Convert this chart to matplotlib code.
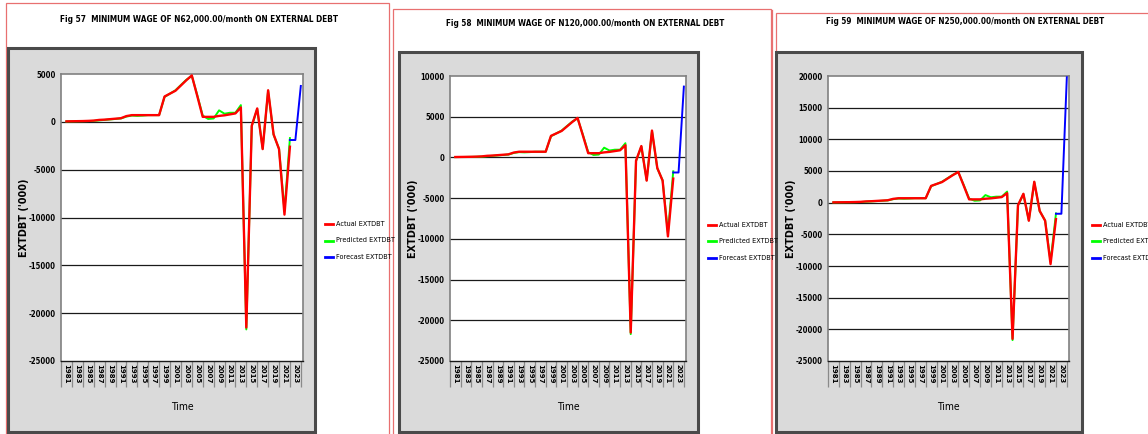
import matplotlib
matplotlib.use("Agg")
import matplotlib.pyplot as plt
from matplotlib import font_manager
from matplotlib.font_manager import FontProperties
from matplotlib.patches import Rectangle
from matplotlib.lines import Line2D

# values (EXTDBT, '000)
years = list(range(1981, 2023))
actual = [50, 60, 70, 80, 100, 130, 200, 230, 280, 330, 380, 600, 700, 700,
          700, 700, 700, 700, 2650, 2950, 3250, 3800, 4350, 4850, 2700, 520,
          520, 520, 620, 680, 780, 880, 1500, -21500, -400, 1400, -2850, 3300,
          -1300, -2850, -9700, -2600]
predicted = [40, 50, 60, 70, 80, 100, 150, 200, 250, 300, 350, 550, 650, 620,
             650, 700, 700, 700, 2600, 2950, 3300, 3850, 4400, 4800, 2800, 650,
             300, 350, 1200, 850, 950, 950, 1750, -21700, -450, 1350, -2800,
             3250, -1350, -2800, -9300, -1700]
fc_years = [2022, 2023, 2024]
forecast_57 = [-1900, -1900, 3750]
forecast_58 = [-1850, -1850, 8700]
forecast_59 = [-1750, -1750, 19800]
tick_years = list(range(1981, 2024, 2))
legend_labels = ["Actual EXTDBT", "Predicted EXTDBT", "Forecast EXTDBT"]

W, H = 1148, 434


def find_font(bold):
    # look for a narrow / condensed face, fall back to Liberation Sans
    want = ["LiberationSansNarrow-Bold" if bold else "LiberationSansNarrow-Regular",
            "DejaVuSansCondensed-Bold" if bold else "DejaVuSansCondensed.",
            "RobotoCondensed-Bold" if bold else "RobotoCondensed-Regular"]
    for w in want:
        for f in font_manager.fontManager.ttflist:
            if w in f.fname.replace(" ", ""):
                return FontProperties(fname=f.fname)
    return FontProperties(family="Liberation Sans", weight="bold" if bold else "normal")


NB = find_font(True)
NR = find_font(False)


def fp(base, size):
    f = base.copy()
    f.set_size(size)
    return f


panels = [
    dict(num=57, wage="N62,000.00", forecast=forecast_57, ylim=(-25000, 5000),
         frame=(6, 3, 389, 436), box=(8, 48, 315, 432), plot=(61, 74, 303, 361),
         title=(199, 20), legend=(325, 224)),
    dict(num=58, wage="N120,000.00", forecast=forecast_58, ylim=(-25000, 10000),
         frame=(393, 9, 771, 436), box=(399, 52, 698, 432), plot=(450, 76, 686, 361),
         title=(585, 23), legend=(708, 225)),
    dict(num=59, wage="N250,000.00", forecast=forecast_59, ylim=(-25000, 20000),
         frame=(776, 13, 1160, 436), box=(776, 52, 1082, 432), plot=(828, 76, 1069, 361),
         title=(965, 22), legend=(1092, 225)),
]


def fx(x):
    return x / W


def fy(y):
    return 1 - y / H


fig = plt.figure(figsize=(W / 100, H / 100), dpi=100)
fig.patch.set_facecolor("white")
renderer = fig.canvas.get_renderer()

# extra red line at the left of the third frame
fig.add_artist(Line2D([fx(772), fx(772)], [fy(10), fy(434)], color="#e87070",
                      lw=0.9, zorder=-5))

for p in panels:
    x0, y0, x1, y1 = p["frame"]
    fig.add_artist(Rectangle((fx(x0), fy(y1)), fx(x1 - x0), (y1 - y0) / H,
                             transform=fig.transFigure, fill=False,
                             edgecolor="#e87070", lw=0.9, zorder=-5))
    x0, y0, x1, y1 = p["box"]
    fig.add_artist(Rectangle((fx(x0), fy(y1)), fx(x1 - x0), (y1 - y0) / H,
                             transform=fig.transFigure, facecolor="#dadada",
                             edgecolor="#4a4a4a", lw=2.2, zorder=-4))

    x0, y0, x1, y1 = p["plot"]
    ax = fig.add_axes([fx(x0), fy(y1), fx(x1 - x0), (y1 - y0) / H])
    ax.set_facecolor("white")

    ax.plot(years, predicted, color="#00ff00", lw=1.4, zorder=3)
    ax.plot(years, actual, color="#ff0000", lw=1.7, zorder=4)
    ax.plot(fc_years, p["forecast"], color="#0000ff", lw=1.4, zorder=5)

    lo, hi = p["ylim"]
    ax.set_ylim(lo, hi)
    ax.set_xlim(1980.15, 2024.4)
    yt = list(range(lo, hi + 1, 5000))
    ax.set_yticks(yt)
    ax.set_yticklabels([str(v) for v in yt], fontproperties=fp(NB, 5.5))
    for v in yt[1:-1]:
        ax.axhline(v, color="#1a1a1a", lw=0.9, zorder=2)
    ax.set_xticks(tick_years)
    ax.set_xticklabels([str(v) for v in tick_years], rotation=-90,
                       fontsize=5, fontweight="bold", family="DejaVu Sans")
    ax.set_xticks([v - 1 for v in tick_years] + [2024], minor=True)
    ax.tick_params(axis="x", which="major", length=0, pad=2)
    ax.tick_params(axis="x", which="minor", length=19, width=0.9, color="#8a8a8a")
    ax.tick_params(axis="y", length=0, pad=4)

    for s in ("top", "left", "right"):
        ax.spines[s].set_color("#808080")
        ax.spines[s].set_linewidth(1.2)
    ax.spines["bottom"].set_color("#1a1a1a")
    ax.spines["bottom"].set_linewidth(1.0)

    ax.set_ylabel("EXTDBT ('000)", fontsize=7, fontweight="bold", family="DejaVu Sans")
    ax.yaxis.set_label_coords(-32 / (x1 - x0), 0.5)
    ax.set_xlabel("Time", fontproperties=fp(NR, 7.5))
    ax.xaxis.set_label_coords(0.5, -(402 - y1) / (y1 - y0))

    tx, ty = p["title"]
    ttl = fig.text(fx(tx), fy(ty),
                   f"Fig {p['num']}  MINIMUM WAGE OF {p['wage']}/month ON EXTERNAL DEBT",
                   ha="center", va="center", fontproperties=fp(NB, 8.5))
    # fit the title to the width seen in the reference (~276 px)
    wpx = ttl.get_window_extent(renderer).width
    ttl.set_fontproperties(fp(NB, 8.5 * 278 / wpx))

    lx, ly = p["legend"]
    for i, (lab, col) in enumerate(zip(legend_labels, ["#ff0000", "#00ff00", "#0000ff"])):
        yy = ly + i * 16.5
        fig.add_artist(Line2D([fx(lx), fx(lx + 8)], [fy(yy), fy(yy)], color=col, lw=2))
        fig.text(fx(lx + 11), fy(yy), lab, ha="left", va="center",
                 fontproperties=fp(NR, 5.2))

fig.savefig("out.png", dpi=100)
